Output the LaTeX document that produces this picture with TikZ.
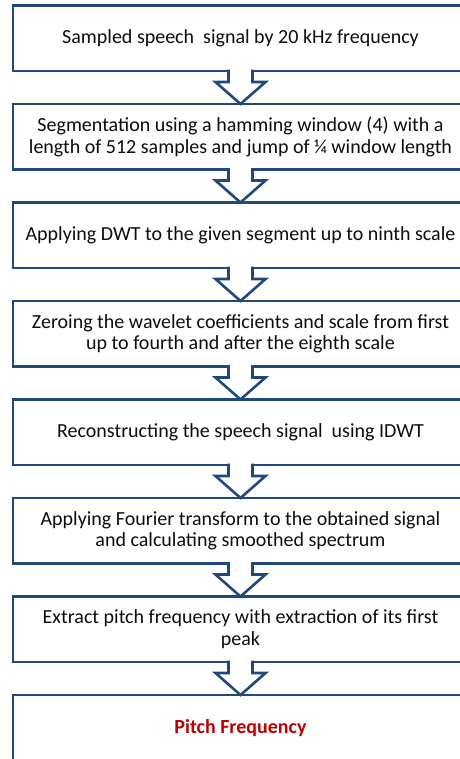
\documentclass[tikz,border=0pt]{standalone}
\usepackage{fontspec}
\setmainfont{Carlito}
\usetikzlibrary{positioning}

\definecolor{flowblue}{RGB}{31,73,125}
\definecolor{flowred}{RGB}{192,0,0}
\definecolor{flowtext}{RGB}{13,13,13}

\tikzset{
  stepbox/.style={rectangle,draw=flowblue,line width=2.6pt,fill=white,outer sep=0pt,
    minimum width=455pt,minimum height=65.5pt,align=center,text=flowtext,
    font=\fontsize{20pt}{21.5pt}\selectfont},
  blockarrow/.style={draw=flowblue,fill=white,line width=2.6pt,line join=miter}
}

\begin{document}
\begin{tikzpicture}[node distance=33pt]
\useasboundingbox (0pt,0pt) rectangle (459pt,-759pt);
\node[stepbox,anchor=north] (s1) at (240.5pt,-5.5pt) {Sampled speech\ \ signal by 20 kHz frequency};
\node[stepbox,below=of s1] (s2) {Segmentation using a hamming window (4) with a\\length of 512 samples and jump of \textonequarter\ window length};
\node[stepbox,below=of s2] (s3) {Applying DWT to the given segment up to ninth scale};
\node[stepbox,below=of s3] (s4) {Zeroing the wavelet coefficients and scale from first\\up to fourth and after the eighth scale};
\node[stepbox,below=of s4] (s5) {Reconstructing the speech signal\ \ using IDWT};
\node[stepbox,below=of s5] (s6) {Applying Fourier transform to the obtained signal\\and calculating smoothed spectrum};
\node[stepbox,below=of s6] (s7) {Extract pitch frequency with extraction of its first\\peak};
\node[stepbox,below=of s7,text=flowred,font=\fontsize{20pt}{21.5pt}\selectfont\bfseries] (s8) {Pitch Frequency};

% hollow arrows between the steps
\foreach \a/\b in {s1/s2,s2/s3,s3/s4,s4/s5,s5/s6,s6/s7,s7/s8}
  \filldraw[blockarrow] ([xshift=-12pt,yshift=1.4pt]\a.south) -- ([xshift=-12pt,yshift=-11pt]\a.south)
    -- ([xshift=-25pt,yshift=-11pt]\a.south) -- (\b.north) -- ([xshift=25pt,yshift=-11pt]\a.south)
    -- ([xshift=12pt,yshift=-11pt]\a.south) -- ([xshift=12pt,yshift=1.4pt]\a.south);

\end{tikzpicture}
\end{document}
